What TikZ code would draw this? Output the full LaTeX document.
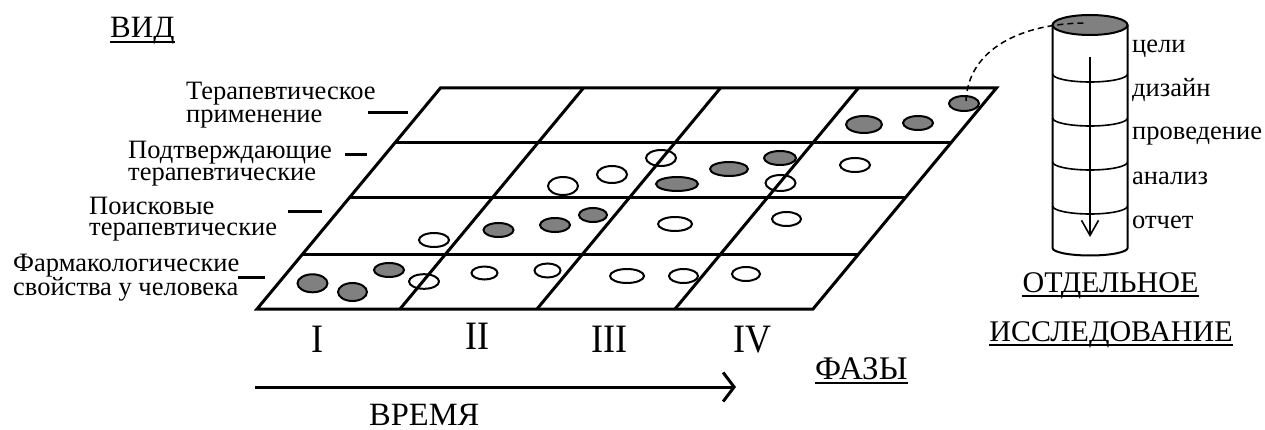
\documentclass[tikz,border=0pt]{standalone}
\usepackage{fontspec}
\setmainfont{Liberation Serif}
\usetikzlibrary{arrows.meta,calc}
\definecolor{dotgray}{RGB}{128,128,128}
\begin{document}
\begin{tikzpicture}[x=1pt,y=-1pt,
  gridline/.style={line width=3pt},
  dotfill/.style={draw, line width=2pt, fill=dotgray},
  dotopen/.style={draw, line width=2pt},
  lbl/.style={inner sep=0pt, anchor=base west, font=\fontsize{26.5}{28}\selectfont},
  rowlbl/.style={inner sep=0pt, anchor=north west, align=left},
  biglbl/.style={inner sep=0pt, font=\fontsize{30}{32}\selectfont},
  numlbl/.style={inner sep=0pt, anchor=base, yscale=1.12, font=\fontsize{36}{38}\selectfont},
  ulline/.style={line width=1.6pt},
  tick/.style={line width=3pt},
  cyl/.style={line width=2pt},
  cylarc/.style={line width=1.6pt}]
\useasboundingbox (0,0) rectangle (1265,430);

% ---- grid (parallelogram) ----
\def\kk{0.83}
\coordinate (BL) at (257,309);
\coordinate (BR) at (813,309);
\coordinate (TL) at ({257+\kk*221},88);
\coordinate (TR) at ({813+\kk*221},88);
\draw[gridline, line join=miter] (BL) -- (BR) -- (TR) -- (TL) -- cycle;
\foreach \yy in {143,198,254}{
  \draw[gridline] ({257+\kk*(309-\yy)},\yy) -- ({813+\kk*(309-\yy)},\yy);
}
\foreach \xx in {400,537,675}{
  \draw[gridline] (\xx,309) -- ({\xx+\kk*221},88);
}

% ---- ellipses ----
% filled
\foreach \cx/\cy/\rx/\ry in {312.5/283.3/15/9, 352.5/292/14.5/9, 389/270/15/7,
   498.5/230/15/7, 555/225/15/7, 593/215/14/7,
   677/184/21/7, 729/169/19/7, 780/158/16/7,
   864/124.5/18/8.5, 918/123/15/7, 964/103.5/15/7.5}{
  \path[dotfill] (\cx,\cy) ellipse [x radius=\rx pt, y radius=\ry pt];
}
% open
\foreach \cx/\cy/\rx/\ry in {424/281.5/15/7.3, 484.5/273/13/6.5, 547.5/270.5/13/7,
   627/276/17/7, 683.5/276/14.5/7, 746/274/14/7,
   434/240/15/7, 675/224/17/7, 786.5/219/14.5/7,
   563/186/15/9, 612/174.5/15/8.5, 661/158/15/8, 780.5/183/15/8, 855/165/15/7}{
  \path[dotopen] (\cx,\cy) ellipse [x radius=\rx pt, y radius=\ry pt];
}

% ---- left ticks ----
\draw[tick] (368,113) -- (408,113);
\draw[tick] (345,155) -- (367,155);
\draw[tick] (288,212) -- (322,212);
\draw[tick] (238,277) -- (265,277);

% ---- left labels ----
\node[rowlbl, font=\fontsize{26.5}{22.5}\selectfont] (l1) at (186,82) {Терапевтическое\\применение};
\node[rowlbl, font=\fontsize{26.5}{22}\selectfont] (l2) at (128,140.5) {Подтверждающие\\терапевтические};
\node[rowlbl, font=\fontsize{26.5}{21.5}\selectfont] (l3) at (89,196.5) {Поисковые\\терапевтические};
\node[rowlbl, font=\fontsize{26.5}{24}\selectfont] (l4) at (13,253.5) {Фармакологические\\свойства у человека};

% ---- big labels ----
\node[biglbl, anchor=base west, font=\fontsize{31}{33}\selectfont] (vid) at (110,38) {ВИД};
\draw[ulline] ([yshift=-4pt]vid.base west) -- ([yshift=-4pt]vid.base east);
\node[biglbl, anchor=base west, font=\fontsize{33}{35}\selectfont] (faz) at (815,379) {ФАЗЫ};
\draw[ulline] ([yshift=-4pt]faz.base west) -- ([yshift=-4pt]faz.base east);
\node[biglbl, anchor=base] (otd) at (1110.5,292) {ОТДЕЛЬНОЕ};
\draw[ulline] ([yshift=-4pt]otd.base west) -- ([yshift=-4pt]otd.base east);
\node[biglbl, anchor=base] (iss) at (1111,341) {ИССЛЕДОВАНИЕ};
\draw[ulline] ([yshift=-4pt]iss.base west) -- ([yshift=-4pt]iss.base east);
\node[biglbl, anchor=base west, font=\fontsize{32.5}{34}\selectfont] (vrem) at (369,425.5) {ВРЕМЯ};

% ---- phase numerals ----
\node[numlbl] (p1) at (317,352) {I};
\node[numlbl] (p2) at (477.5,349) {II};
\node[numlbl] (p3) at (609,352) {III};
\node[numlbl] (p4) at (752,352) {IV};

% ---- time arrow ----
\coordinate (ta) at (255,387);
\coordinate (tb) at (736,387);
\draw[line width=3pt, -{Straight Barb[length=11pt,width=29pt]}] (ta) -- (tb);

% ---- cylinder ----
\path[cyl, draw, fill=dotgray] (1090,25) ellipse [x radius=37.5pt, y radius=10pt];
\draw[cyl] (1052.5,25) -- (1052.5,248) arc[start angle=180, end angle=360, x radius=37.5pt, y radius=7.5pt] -- (1127.5,25);
\foreach \yy in {74,118,162,206}{
  \draw[cylarc] (1052.5,\yy) arc[start angle=180, end angle=360, x radius=37.5pt, y radius=8pt];
}
\coordinate (ca) at (1090,57);
\coordinate (cb) at (1090,237);
\draw[line width=1.6pt, -{Straight Barb[length=15pt,width=17pt]}] (ca) -- (cb);

% ---- cylinder labels ----
\node[lbl] (c1) at (1132,52.5) {цели};
\node[lbl] (c2) at (1132,97) {дизайн};
\node[lbl] (c3) at (1132,140) {проведение};
\node[lbl] (c4) at (1132,185) {анализ};
\node[lbl] (c5) at (1132,228.5) {отчет};

% ---- dashed link ----
\coordinate (da) at (966,101);
\coordinate (db) at (1087,23);
\draw[line width=1.5pt, dash pattern=on 6pt off 4pt] (da) .. controls (968,50) and (1020,23) .. (db);
\end{tikzpicture}
\end{document}
